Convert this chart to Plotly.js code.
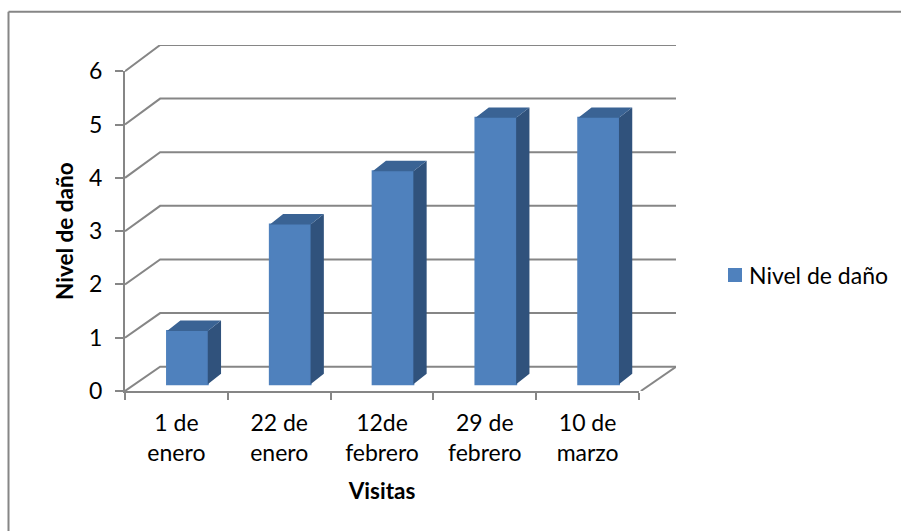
<!DOCTYPE html>
<html>
<head>
<meta charset="utf-8">
<script src="https://cdn.plot.ly/plotly-3.0.1.min.js"></script>
<style>html,body{margin:0;padding:0;background:#fff}</style>
</head>
<body>
<div id="chart" style="width:901px;height:531px"></div>
<script>
const categories = ["1 de<br>enero", "22 de<br>enero", "12de<br>febrero", "29 de<br>febrero", "10 de<br>marzo"];
const nivelDeDano = [1, 3, 4, 5, 5];
const yTicks = [0, 1, 2, 3, 4, 5, 6];

// Front plane of the pseudo-3D box, and its outer extent with the back wall, in pixels
const W = 901, H = 531, L = 125, R = 639, T = 71, B = 391, OUTER_R = 676, OUTER_T = 44.7;
const pxX = (R - L) / categories.length, pxY = (B - T) / 6;

// Depth of the box and of each column, converted to axis units
const wallDx = (160 - L) / pxX, wallDy = 24.3 / pxY, backScale = 322 / 320;
const barDx = 13.3 / pxX, barDy = 10.5 / pxY;
const barW = 40.7 / pxX, barShift = 11 / pxX, barBase = 6.7 / pxY;

const GRID = "#868686", FRONT = "#4f81bd", SIDE = "#30527c", TOP = "#3a6394";
const FONT = "Lato, Carlito, Calibri, sans-serif";
const xMin = -0.5, xMax = categories.length - 0.5;
const LINE = 2;

// Wall gridlines: left wall diagonal, then back wall horizontal
const wallX = [], wallY = [];
yTicks.forEach(v => {
  const back = v * backScale + wallDy;
  wallX.push(xMin, xMin + wallDx, xMax + wallDx, null);
  wallY.push(v, back, back, null);
});
// Right edge of the floor
wallX.push(xMax, xMax + wallDx);
wallY.push(0, wallDy);

// Side and top faces of every column
const sideX = [], sideY = [], topX = [], topY = [];
nivelDeDano.forEach((v, i) => {
  const x0 = i + barShift - barW / 2, x1 = x0 + barW;
  const y0 = barBase, y1 = barBase + v;
  sideX.push(x1, x1 + barDx, x1 + barDx, x1, x1, null);
  sideY.push(y0, y0 + barDy, y1 + barDy, y1, y0, null);
  topX.push(x0, x1, x1 + barDx, x0 + barDx, x0, null);
  topY.push(y1, y1, y1 + barDy, y1 + barDy, y1, null);
});

const polygon = (x, y, color) => ({
  type: "scatter", mode: "lines", x, y, xaxis: "x3", yaxis: "y2",
  fill: "toself", fillcolor: color, line: {width: 0, color},
  showlegend: false, hoverinfo: "skip"
});

const traces = [
  {
    type: "scatter", mode: "lines", x: wallX, y: wallY,
    line: {color: GRID, width: LINE}, showlegend: false, hoverinfo: "skip"
  },
  {
    type: "bar", name: "Nivel de daño", xaxis: "x2", yaxis: "y2",
    x: categories.map((_, i) => i), y: nivelDeDano,
    base: nivelDeDano.map(() => barBase),
    width: barW, offset: barShift - barW / 2,
    marker: {color: FRONT, line: {width: 2, color: FRONT}}
  },
  polygon(sideX, sideY, SIDE),
  polygon(topX, topY, TOP)
];

// Paper coordinates are fractions of the outer plot area
const paperX = x => (x - L) / (OUTER_R - L);
const paperY = y => (B - y) / (B - OUTER_T);

const layout = {
  width: W, height: H,
  margin: {l: L, r: W - OUTER_R, t: OUTER_T, b: H - B, pad: 0},
  paper_bgcolor: "#fff", plot_bgcolor: "rgba(0,0,0,0)",
  font: {family: FONT, color: "#000", size: 23},
  // Box walls
  xaxis: {range: [xMin, xMax + wallDx], visible: false, fixedrange: true},
  yaxis: {range: [0, (B - OUTER_T) / pxY], visible: false, fixedrange: true},
  // Front plane: axis lines, tick marks and titles
  xaxis2: {
    domain: [0, paperX(R)], anchor: "y2", range: [xMin, xMax], tickmode: "array",
    tickvals: categories.map((_, i) => i - 0.5).concat(xMax),
    showticklabels: false, ticks: "outside", ticklen: 7, tickwidth: LINE, tickcolor: GRID,
    showline: true, linecolor: GRID, linewidth: LINE, showgrid: false, zeroline: false,
    title: {text: "<b>Visitas</b>", standoff: 84, font: {family: FONT, size: 22.5}}
  },
  yaxis2: {
    domain: [0, paperY(T)], anchor: "x2", range: [0, 6], tickmode: "array",
    tickvals: yTicks, ticktext: yTicks.map(String),
    ticks: "outside", ticklen: 8, tickwidth: LINE, tickcolor: GRID,
    showline: true, linecolor: GRID, linewidth: LINE, showgrid: false, zeroline: false,
    tickfont: {family: FONT, size: 23}, ticklabelstandoff: 8,
    title: {text: "<b>Nivel de daño</b>", standoff: 9, font: {family: FONT, size: 22.5}}
  },
  // Category labels sit between the tick marks
  xaxis3: {
    overlaying: "x2", anchor: "y2", range: [xMin, xMax], tickmode: "array",
    tickvals: categories.map((_, i) => i), ticktext: categories,
    ticks: "", showgrid: false, zeroline: false, showline: false,
    tickfont: {family: FONT, size: 23, color: "#000"}, ticklabelstandoff: 16
  },
  legend: {
    xref: "container", yref: "container",
    x: 715 / W, y: 1 - 275 / H, xanchor: "left", yanchor: "middle",
    bgcolor: "rgba(0,0,0,0)", itemwidth: 30, indentation: -6,
    font: {family: FONT, size: 23, color: "#000"}
  },
  // Chart frame: top and left edges
  shapes: [
    {type: "line", xref: "paper", yref: "paper", x0: paperX(8.5), x1: paperX(W), y0: paperY(11.5), y1: paperY(11.5), line: {color: GRID, width: LINE}},
    {type: "line", xref: "paper", yref: "paper", x0: paperX(8.5), x1: paperX(8.5), y0: paperY(11.5), y1: paperY(H), line: {color: GRID, width: LINE}}
  ]
};

Plotly.newPlot("chart", traces, layout, {displayModeBar: false, responsive: false}).then(gd => {
  // Bring the legend swatch closer to its label than itemwidth allows
  gd.querySelectorAll(".legendpoints").forEach(el => {
    el.setAttribute("transform", "translate(6,0) " + (el.getAttribute("transform") || ""));
  });
});
</script>
</body>
</html>
